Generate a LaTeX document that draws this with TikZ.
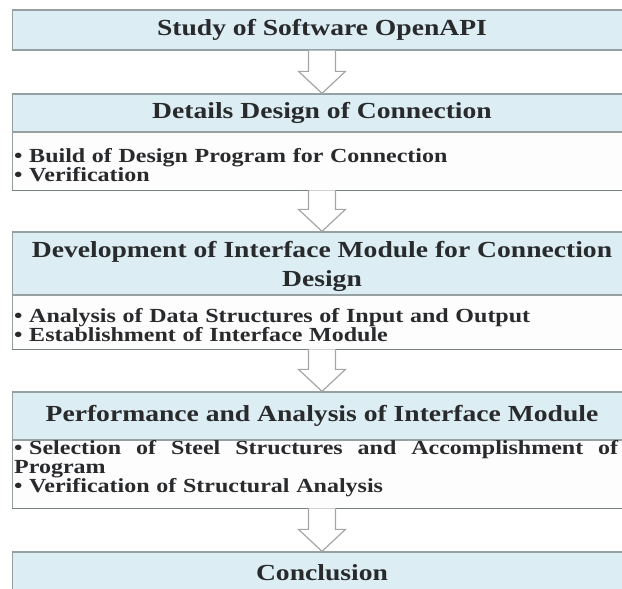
\documentclass[tikz,border=0pt]{standalone}
\usepackage{fontspec}
\newfontfamily\diagfont{Liberation Serif}[FakeStretch=1.2]
\usetikzlibrary{calc}

\definecolor{headfill}{RGB}{220,238,243}
\definecolor{bodyfill}{RGB}{254,253,254}
\definecolor{rulegray}{RGB}{150,160,163}
\definecolor{shadowgray}{RGB}{120,128,130}
\definecolor{arrowgray}{RGB}{165,165,165}
\definecolor{inkgray}{RGB}{40,42,44}

\tikzset{
  head/.style={draw=rulegray, line width=1.3pt, fill=headfill, minimum width=700pt,
    anchor=west, inner sep=0pt, text=inkgray,
    font=\diagfont\bfseries\fontsize{23}{29}\selectfont},
  bodybox/.style={draw=rulegray, line width=0.8pt, fill=bodyfill, minimum width=700pt,
    anchor=west, inner sep=0pt},
  headtext/.style={inner sep=0pt, align=center, text=inkgray,
    font=\diagfont\bfseries\fontsize{23}{29}\selectfont},
  bodytext/.style={anchor=west, inner sep=0pt, align=left, text width=606pt, text=inkgray,
    font=\diagfont\bfseries\fontsize{20}{19}\selectfont},
  underline/.style={draw=shadowgray, line width=1.6pt},
  arrowline/.style={draw=arrowgray, line width=1.2pt, fill=white, line join=miter}
}

% hollow block arrow from the bottom of one box to the top of the next
\newcommand\flowarrow[2]{%
  \path[arrowline] let \p1=(#1.south), \p2=(#2.north) in
    (\x1-13.5pt,\y1) -- (\x1-13.5pt,\y2+22pt) -- (\x1-23.5pt,\y2+22pt) --
    (\x1,\y2) -- (\x1+23.5pt,\y2+22pt) -- (\x1+13.5pt,\y2+22pt) --
    (\x1+13.5pt,\y1);}

\begin{document}
\begin{tikzpicture}[x=1pt,y=1pt]
\useasboundingbox (0,0) rectangle (622,-589);
\clip (0,0) rectangle (622,-589);

% boxes: headers and detail panels, running past the right edge
\node[head, minimum height=40pt] (h1) at (12,-30) {};
\node[head, minimum height=38pt] (h2) at (12,-113) {};
\node[bodybox, minimum height=58pt] (b2) at (12,-161) {};
\node[head, minimum height=63pt] (h3) at (12,-263.5) {};
\node[bodybox, minimum height=54pt] (b3) at (12,-322) {};
\node[head, minimum height=48pt] (h4) at (12,-416) {};
\node[bodybox, minimum height=68pt] (b4) at (12,-474) {};
\node[head, minimum height=44pt] (h5) at (12,-574) {};

% heavier rule under each detail panel
\draw[underline] (b2.south west) -- (b2.south east);
\draw[underline] (b3.south west) -- (b3.south east);
\draw[underline] (b4.south west) -- (b4.south east);

% titles
\node[headtext] (l1) at (322,-30) {Study of Software OpenAPI};
\node[headtext] (l2) at (322,-113) {Details Design of Connection};
\node[headtext] (l3) at (322,-266)
  {Development of Interface Module for Connection\\Design};
\node[headtext] (l4) at (322,-416) {Performance and Analysis of Interface Module};
\node[headtext] (l5) at (322,-573) {Conclusion};

% detail lines
\node[bodytext] (t2) at (14,-165) {\textbullet\ Build of Design Program for Connection\\
  \textbullet\ Verification};
\node[bodytext] (t3) at (14,-325.5) {\textbullet\ Analysis of Data Structures of Input and Output\\
  \textbullet\ Establishment of Interface Module};
\node[bodytext] (t4) at (14,-468.5)
  {\makebox[604pt][l]{\textbullet\ Selection\hfill of\hfill Steel\hfill Structures\hfill
   and\hfill Accomplishment\hfill of}\\
  Program\\
  \textbullet\ Verification of Structural Analysis};

% flow arrows, centred on the titles
\coordinate (c1) at (l1.center |- h1.south);
\coordinate (c2) at (l1.center |- b2.south);
\coordinate (c3) at (l1.center |- b3.south);
\coordinate (c4) at (l1.center |- b4.south);
\coordinate (d2) at (l1.center |- h2.north);
\coordinate (d3) at (l1.center |- h3.north);
\coordinate (d4) at (l1.center |- h4.north);
\coordinate (d5) at (l1.center |- h5.north);
\flowarrow{c1}{d2}
\flowarrow{c2}{d3}
\flowarrow{c3}{d4}
\flowarrow{c4}{d5}
\end{tikzpicture}
\end{document}
